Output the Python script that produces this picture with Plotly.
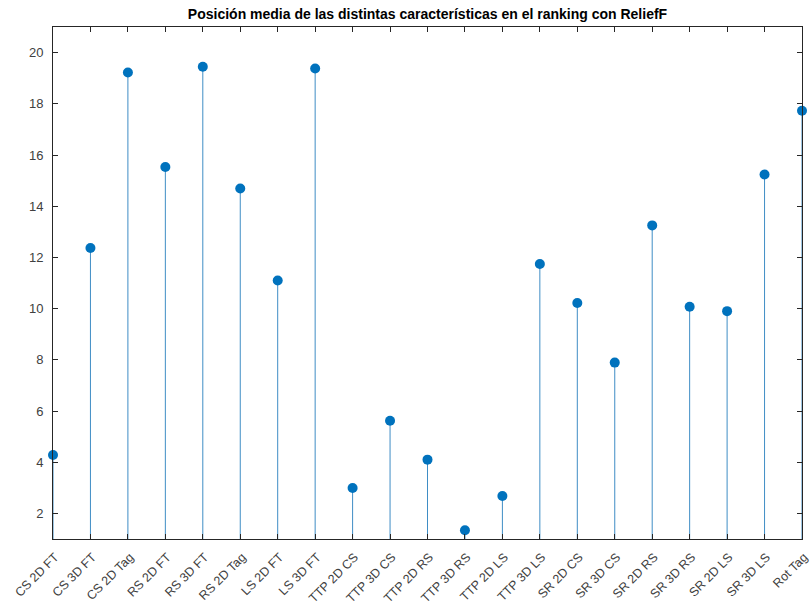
import plotly.graph_objects as go

# Feature names and their mean position in the ReliefF ranking
features = [
    "CS 2D FT", "CS 3D FT", "CS 2D Tag", "RS 2D FT", "RS 3D FT", "RS 2D Tag",
    "LS 2D FT", "LS 3D FT", "TTP 2D CS", "TTP 3D CS", "TTP 2D RS", "TTP 3D RS",
    "TTP 2D LS", "TTP 3D LS", "SR 2D CS", "SR 3D CS", "SR 2D RS", "SR 3D RS",
    "SR 2D LS", "SR 3D LS", "Rot Tag",
]
mean_position = [
    4.28, 12.37, 19.22, 15.53, 19.45, 14.69,
    11.10, 19.38, 2.99, 5.62, 4.10, 1.34,
    2.68, 11.74, 10.22, 7.89, 13.25, 10.07,
    9.90, 15.24, 17.73,
]
y_ticks = [2, 4, 6, 8, 10, 12, 14, 16, 18, 20]

idx = list(range(1, len(features) + 1))

# Stem segments from the baseline (0) up to each value
stem_x, stem_y = [], []
for i, v in zip(idx, mean_position):
    stem_x += [i, i, None]
    stem_y += [0, v, None]

fig = go.Figure()
fig.add_trace(go.Scatter(
    x=stem_x, y=stem_y, mode="lines",
    line=dict(color="#3f8dc5", width=1),
    hoverinfo="skip", showlegend=False,
))
fig.add_trace(go.Scatter(
    x=idx, y=mean_position, mode="markers",
    marker=dict(color="#0072BD", size=10),
    cliponaxis=False, showlegend=False,
))

axis_color = "#262626"
fig.update_layout(
    width=811, height=606,
    margin=dict(l=53, r=9, t=27, b=67),
    paper_bgcolor="white", plot_bgcolor="white",
    title=dict(
        text="<b>Posición media de las distintas características en el ranking con ReliefF</b>",
        x=(53 + 802) / 2 / 811, xanchor="center",
        y=1 - 14 / 606, yanchor="middle",
        font=dict(family="Liberation Sans, Arial, sans-serif", size=14, color="#000000"),
    ),
    font=dict(family="Liberation Sans, Arial, sans-serif", size=12.5, color="#404040"),
    xaxis=dict(
        range=[1, 21], tickmode="array", tickvals=idx, ticktext=features,
        tickangle=-45, ticks="inside", ticklen=5, tickcolor=axis_color,
        showline=True, linecolor=axis_color, linewidth=1, mirror="ticks",
        showgrid=False, zeroline=False, automargin=False,
        ticklabelstandoff=5, ticklabelshift=2, ticklabeloverflow="allow",
        tickfont=dict(size=12.5, color="#404040"),
    ),
    yaxis=dict(
        range=[1, 21], tickmode="array", tickvals=y_ticks,
        ticks="inside", ticklen=5, tickcolor=axis_color,
        showline=True, linecolor=axis_color, linewidth=1, mirror="ticks",
        showgrid=False, zeroline=False, automargin=False,
        ticklabelstandoff=6,
        tickfont=dict(size=13, color="#404040"),
    ),
)

fig.write_html("out.html")
